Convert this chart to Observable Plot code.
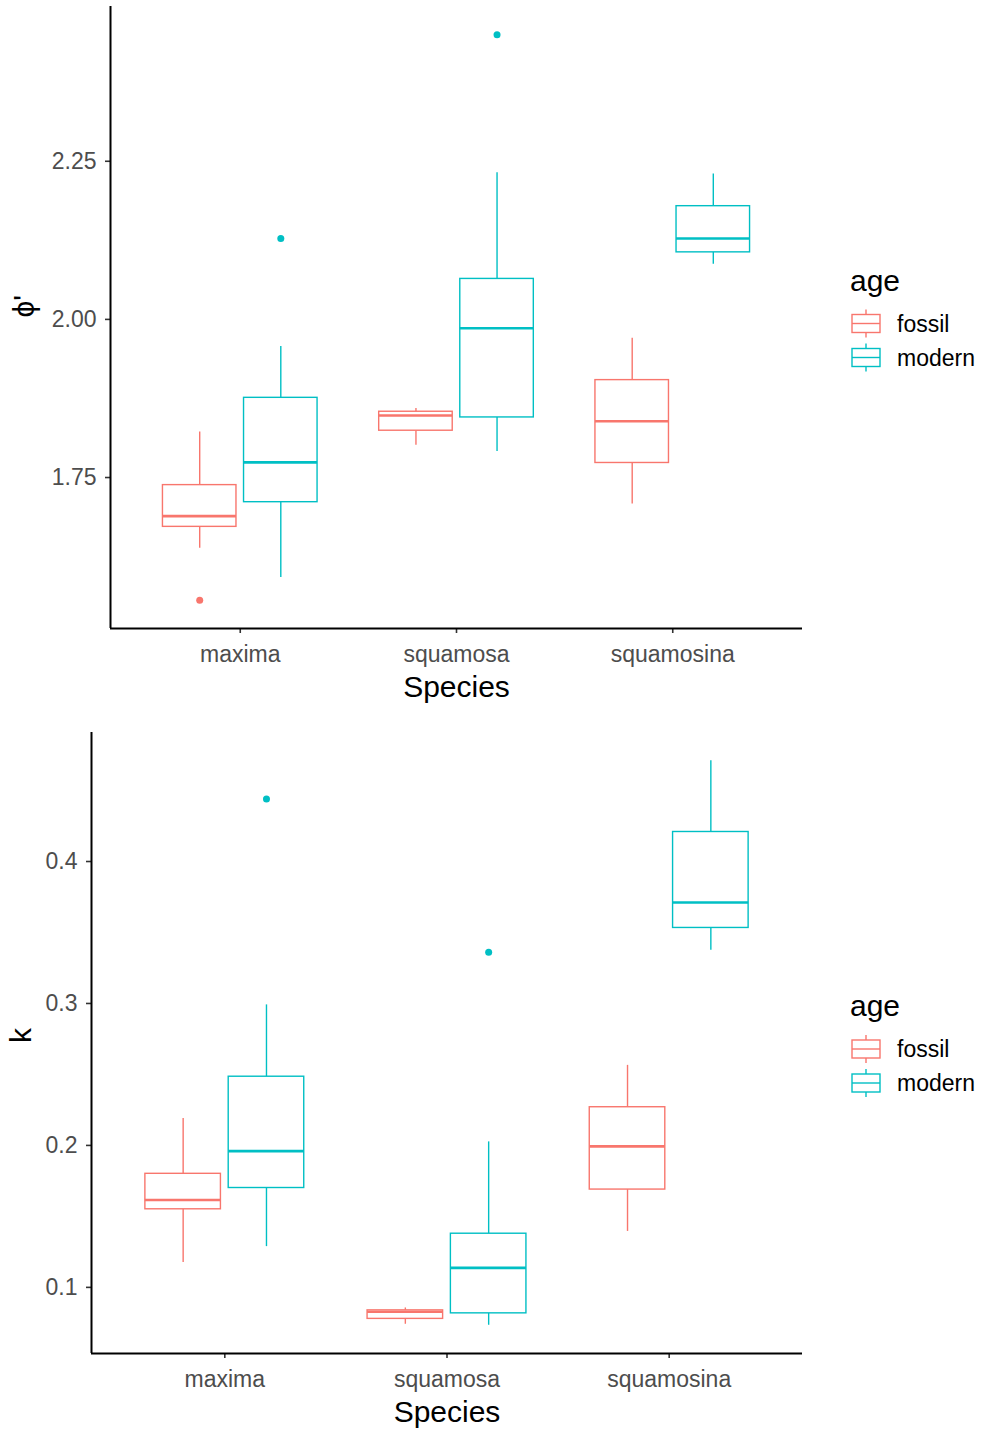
<!DOCTYPE html>
<html>
<head>
<meta charset="utf-8">
<script src="https://cdn.jsdelivr.net/npm/d3@7"></script>
<script src="https://cdn.jsdelivr.net/npm/@observablehq/plot@0.6"></script>
<style>
  html, body { margin: 0; padding: 0; background: #fff; }
  #chart svg { display: block; }
</style>
</head>
<body>
<div id="chart"></div>
<script>
// ---- categories ----
const species = ["maxima", "squamosa", "squamosina"];
const ages = ["fossil", "modern"];
const ageColors = ["#F8766D", "#00BFC4"];

// box groups (in order)
const groupSpecies = ["maxima", "maxima", "squamosa", "squamosa", "squamosina", "squamosina"];
const groupAge = ["fossil", "modern", "fossil", "modern", "fossil", "modern"];

// ---- panel 1: phi' ----
const phiLow  = [1.638, 1.592, 1.801, 1.791, 1.708, 2.087];
const phiQ1   = [1.672, 1.711, 1.824, 1.845, 1.773, 2.106];
const phiMed  = [1.689, 1.774, 1.848, 1.986, 1.839, 2.128];
const phiQ3   = [1.738, 1.876, 1.854, 2.064, 1.904, 2.179];
const phiHigh = [1.822, 1.957, 1.859, 2.232, 1.970, 2.230];
const phiOutSpecies = ["maxima", "maxima", "squamosa"];
const phiOutAge     = ["fossil", "modern", "modern"];
const phiOutValue   = [1.556, 2.128, 2.450];
const phiTicks = [1.75, 2.00, 2.25];

// ---- panel 2: k ----
const kLow  = [0.1175, 0.1287, 0.0740, 0.0733, 0.1394, 0.3375];
const kQ1   = [0.1550, 0.1700, 0.0778, 0.0817, 0.1689, 0.3532];
const kMed  = [0.1616, 0.1960, 0.0828, 0.1137, 0.1993, 0.3711];
const kQ3   = [0.1800, 0.2484, 0.0838, 0.1378, 0.2269, 0.4208];
const kHigh = [0.2190, 0.2990, 0.0855, 0.2025, 0.2564, 0.4710];
const kOutSpecies = ["maxima", "squamosa"];
const kOutAge     = ["modern", "modern"];
const kOutValue   = [0.444, 0.336];
const kTicks = [0.1, 0.2, 0.3, 0.4];

// ---- layout constants (ggplot-like dodge) ----
const DODGE = 0.375;     // offset between the two ages
const HALF = 0.17;       // half box width
const XPAD = 0.6;        // discrete axis expansion
const FONT = "'Liberation Sans', Arial, sans-serif";

function pos(s, a) {
  return species.indexOf(s) + (ages.indexOf(a) - 0.5) * DODGE;
}

function panel(cfg) {
  const rows = groupSpecies.map((s, i) => ({
    species: s, age: groupAge[i], p: pos(s, groupAge[i]),
    lo: cfg.low[i], q1: cfg.q1[i], med: cfg.med[i], q3: cfg.q3[i], hi: cfg.high[i]
  }));
  const outs = cfg.outV.map((v, i) => ({age: cfg.outA[i], p: pos(cfg.outS[i], cfg.outA[i]), v}));
  const all = [...cfg.low, ...cfg.high, ...cfg.outV];
  const mn = d3.min(all), mx = d3.max(all), pad = (mx - mn) * 0.05;
  const yDomain = [mn - pad, mx + pad];
  const xDomain = [-XPAD, species.length - 1 + XPAD];

  const plot = Plot.plot({
    width: 982, height: cfg.height,
    marginTop: cfg.marginTop, marginBottom: cfg.marginBottom,
    marginLeft: cfg.marginLeft, marginRight: 180,
    style: {fontFamily: FONT, fontSize: "23px", color: "#4d4d4d", background: "white", overflow: "visible"},
    x: {type: "linear", domain: xDomain, ticks: d3.range(species.length), tickFormat: i => species[i], tickSize: 5, tickPadding: 12, label: null},
    y: {domain: yDomain, ticks: cfg.ticks, tickFormat: cfg.fmt, tickSize: 5, tickPadding: 9, label: null},
    color: {domain: ages, range: ageColors},
    marks: [
      Plot.ruleX(rows, {x: "p", y1: "lo", y2: "q1", stroke: "age", strokeWidth: 1.4}),
      Plot.ruleX(rows, {x: "p", y1: "q3", y2: "hi", stroke: "age", strokeWidth: 1.4}),
      Plot.rect(rows, {x1: d => d.p - HALF, x2: d => d.p + HALF, y1: "q1", y2: "q3", stroke: "age", fill: "white", strokeWidth: 1.4}),
      Plot.ruleY(rows, {y: "med", x1: d => d.p - HALF, x2: d => d.p + HALF, stroke: "age", strokeWidth: 2.6}),
      Plot.dot(outs, {x: "p", y: "v", fill: "age", r: 3.5}),
      Plot.ruleX([xDomain[0]], {stroke: "black", strokeWidth: 2}),
      Plot.ruleY([yDomain[0]], {stroke: "black", strokeWidth: 2}),
      Plot.text(["Species"], {text: d => d, frameAnchor: "bottom", dy: cfg.xTitleDy, fontSize: 30, fill: "black"}),
      Plot.text([cfg.yTitle], {text: d => d, frameAnchor: "left", dx: cfg.yTitleDx, rotate: -90, fontSize: 30, fill: "black"})
    ]
  });

  // axis tick styling
  d3.select(plot).selectAll('g[aria-label*="axis"] line, g[aria-label*="axis"] path')
    .attr("stroke", "#333").attr("stroke-width", 1.6);

  // legend
  const svg = d3.select(plot);
  const cy = (cfg.marginTop + (cfg.height - cfg.marginBottom)) / 2;
  const lg = svg.append("g").attr("font-family", FONT).attr("text-anchor", "start");
  lg.append("text").attr("x", 850).attr("y", cy - 37).attr("dy", "0.35em")
    .attr("text-anchor", "start").attr("font-size", 30).attr("fill", "black").text("age");
  ages.forEach((a, i) => {
    const ry = cy + 6.5 + 34 * i;
    const c = ageColors[i];
    lg.append("line").attr("x1", 866).attr("x2", 866).attr("y1", ry - 14).attr("y2", ry + 14)
      .attr("stroke", c).attr("stroke-width", 1.4);
    lg.append("rect").attr("x", 852).attr("y", ry - 9).attr("width", 28).attr("height", 18)
      .attr("fill", "white").attr("stroke", c).attr("stroke-width", 1.4);
    lg.append("line").attr("x1", 852).attr("x2", 880).attr("y1", ry).attr("y2", ry)
      .attr("stroke", c).attr("stroke-width", 1.4);
    lg.append("text").attr("x", 897).attr("y", ry).attr("dy", "0.35em")
      .attr("text-anchor", "start").attr("font-size", 23).attr("fill", "black").text(a);
  });
  return plot;
}

const chart = document.getElementById("chart");
chart.appendChild(panel({
  low: phiLow, q1: phiQ1, med: phiMed, q3: phiQ3, high: phiHigh,
  outS: phiOutSpecies, outA: phiOutAge, outV: phiOutValue,
  ticks: phiTicks, fmt: d3.format(".2f"), yTitle: "ϕ'",
  height: 715, marginTop: 6, marginBottom: 87, marginLeft: 110,
  xTitleDy: 68, yTitleDx: -86
}));
chart.appendChild(panel({
  low: kLow, q1: kQ1, med: kMed, q3: kQ3, high: kHigh,
  outS: kOutSpecies, outA: kOutAge, outV: kOutValue,
  ticks: kTicks, fmt: d3.format(".1f"), yTitle: "k",
  height: 716, marginTop: 17, marginBottom: 78, marginLeft: 91,
  xTitleDy: 68, yTitleDx: -70
}));
</script>
</body>
</html>
